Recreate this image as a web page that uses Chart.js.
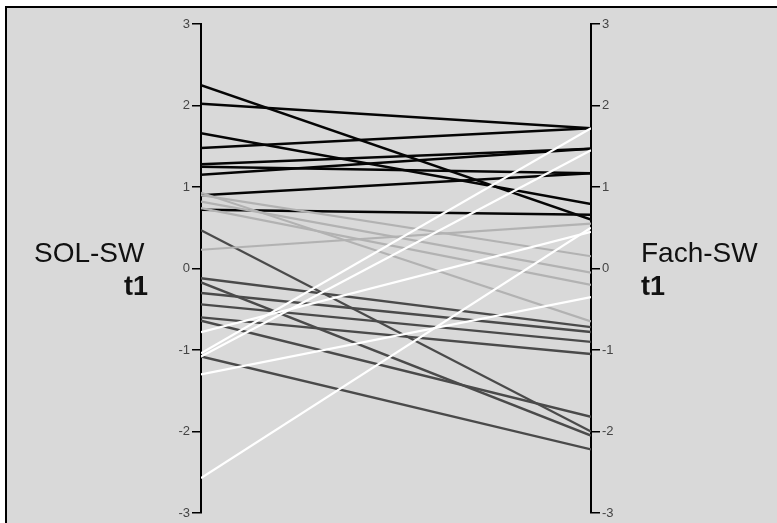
<!DOCTYPE html>
<html>
<head>
<meta charset="utf-8">
<script src="https://cdn.jsdelivr.net/npm/chart.js@4/dist/chart.umd.min.js"></script>
<style>
  html, body { margin: 0; padding: 0; background: #fff; }
  #wrap { width: 777px; height: 523px; }
</style>
</head>
<body>
<div id="wrap"><canvas id="slopeChart" width="777" height="523"></canvas></div>
<script>
// axis names (left / right)
const axisNames = [["SOL-SW", "t1"], ["Fach-SW", "t1"]];
const yTicks = [-3, -2, -1, 0, 1, 2, 3];

// values at t1 on both axes, grouped by line colour
const blackStart = [2.25, 2.02, 1.66, 1.48, 1.28, 1.25, 1.15, 0.9, 0.72];
const blackEnd   = [0.6, 1.72, 0.79, 1.72, 1.47, 1.17, 1.47, 1.17, 0.66];

const darkStart = [0.47, -0.12, -0.17, -0.3, -0.44, -0.6, -0.64, -1.08];
const darkEnd   = [-2.0, -0.72, -2.05, -0.78, -0.9, -1.05, -1.82, -2.22];

const lightStart = [0.93, 0.9, 0.82, 0.74, 0.23];
const lightEnd   = [-0.65, 0.15, -0.05, -0.2, 0.55];

const whiteStart = [-0.78, -1.04, -1.08, -1.3, -2.57];
const whiteEnd   = [0.45, 1.72, 1.45, -0.35, 0.5];

function makeLines(starts, ends, color, width) {
  return starts.map((s, i) => ({
    data: [{ x: 0, y: s }, { x: 1, y: ends[i] }],
    borderColor: color,
    borderWidth: width,
    pointRadius: 0,
    tension: 0,
    fill: false
  }));
}

// first dataset is painted last (on top)
const datasets = [
  ...makeLines(whiteStart, whiteEnd, "#ffffff", 2.2),
  ...makeLines(lightStart, lightEnd, "#b2b2b2", 2.2),
  ...makeLines(darkStart, darkEnd, "#4a4a4a", 2.4),
  ...makeLines(blackStart, blackEnd, "#050505", 2.5)
];

const framePlugin = {
  id: "frame",
  beforeDraw(chart) {
    const ctx = chart.ctx;
    const w = chart.width, h = chart.height;
    ctx.save();
    ctx.fillStyle = "#ffffff";
    ctx.fillRect(0, 0, w, h);
    ctx.fillStyle = "#d9d9d9";
    ctx.fillRect(6, 7, w, h);
    ctx.strokeStyle = "#000";
    ctx.lineWidth = 2;
    ctx.beginPath();
    ctx.moveTo(6, h);
    ctx.lineTo(6, 7);
    ctx.lineTo(w, 7);
    ctx.stroke();
    ctx.restore();
  },
  afterDraw(chart) {
    const ctx = chart.ctx;
    ctx.save();
    ctx.fillStyle = "#111";
    ctx.textBaseline = "alphabetic";
    ctx.font = "28px 'Liberation Sans', Arial, sans-serif";
    ctx.textAlign = "left";
    ctx.fillText(axisNames[0][0], 34, 262);
    ctx.fillText(axisNames[1][0], 641, 262);
    ctx.font = "bold 27px 'Liberation Sans', Arial, sans-serif";
    ctx.textAlign = "right";
    ctx.fillText(axisNames[0][1], 148, 295);
    ctx.textAlign = "left";
    ctx.fillText(axisNames[1][1], 641, 295);
    ctx.restore();
  }
};

function axisOptions(position, width) {
  return {
    type: "linear",
    position: position,
    min: -3,
    max: 3,
    afterBuildTicks: scale => { scale.ticks = yTicks.map(v => ({ value: v })); },
    afterFit: scale => { scale.width = width; },
    border: { display: true, color: "#000", width: 2 },
    grid: { drawOnChartArea: false, drawTicks: true, tickLength: 9, color: "#000", lineWidth: 1.5 },
    ticks: {
      padding: 2,
      color: "#444",
      font: { family: "'Liberation Sans', Arial, sans-serif", size: 13 }
    }
  };
}

new Chart(document.getElementById("slopeChart"), {
  type: "line",
  data: { datasets: datasets },
  options: {
    responsive: false,
    animation: false,
    devicePixelRatio: 1,
    layout: { padding: { top: 24, bottom: 10, left: 0, right: 0 } },
    plugins: { legend: { display: false }, tooltip: { enabled: false } },
    scales: {
      x: { type: "linear", min: 0, max: 1, display: false },
      y: axisOptions("left", 201),
      y2: axisOptions("right", 186)
    }
  },
  plugins: [framePlugin]
});
</script>
</body>
</html>
